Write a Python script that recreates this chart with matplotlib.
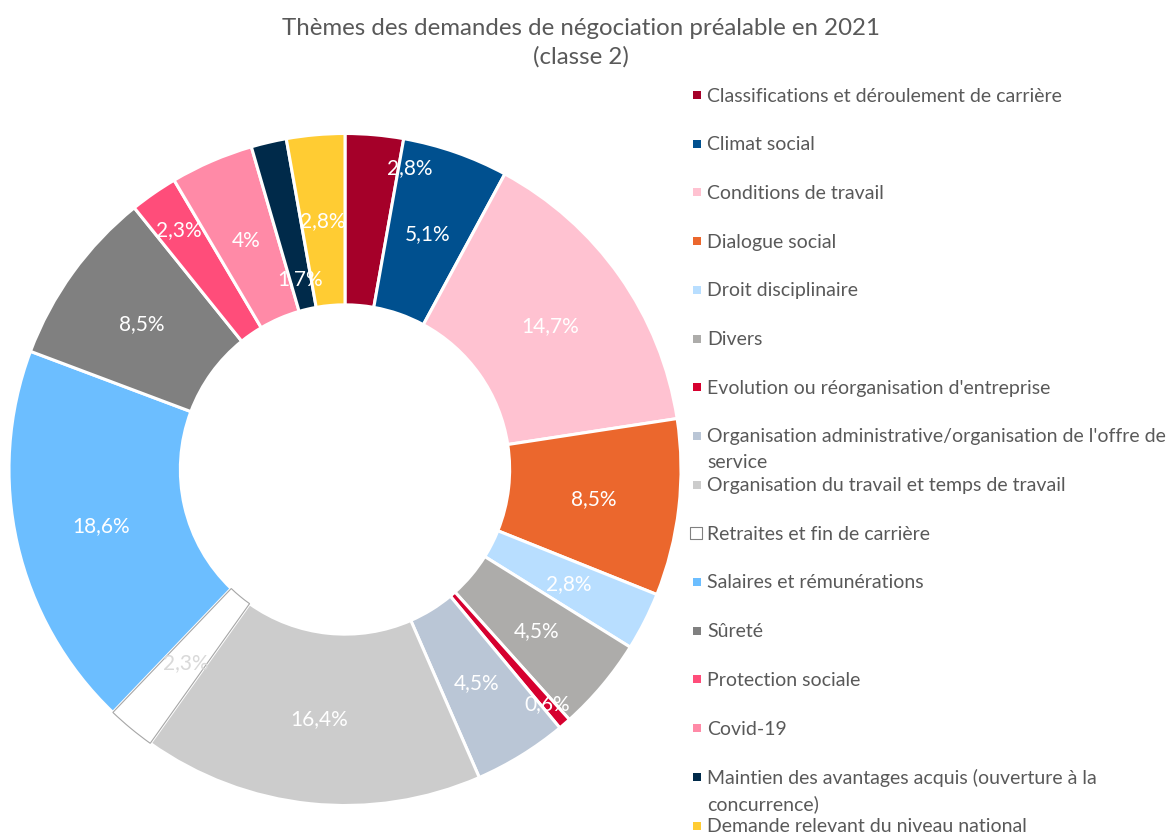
import matplotlib.pyplot as plt
import numpy as np

plt.rcParams['font.family'] = ['Lato', 'DejaVu Sans']

# themes (legend order = slice order, clockwise from the top)
themes = [
    "Classifications et déroulement de carrière",
    "Climat social",
    "Conditions de travail",
    "Dialogue social",
    "Droit disciplinaire",
    "Divers",
    "Evolution ou réorganisation d'entreprise",
    "Organisation administrative/organisation de l'offre de\nservice",
    "Organisation du travail et temps de travail",
    "Retraites et fin de carrière",
    "Salaires et rémunérations",
    "Sûreté",
    "Protection sociale",
    "Covid-19",
    "Maintien des avantages acquis (ouverture à la\nconcurrence)",
    "Demande relevant du niveau national",
]
shares = [2.8, 5.1, 14.7, 8.5, 2.8, 4.5, 0.6, 4.5, 16.4, 2.3, 18.6, 8.5, 2.3, 4.0, 1.7, 2.8]
share_labels = ["2,8%", "5,1%", "14,7%", "8,5%", "2,8%", "4,5%", "0,6%", "4,5%",
                "16,4%", "2,3%", "18,6%", "8,5%", "2,3%", "4%", "1,7%", "2,8%"]
colors = ["#A50029", "#00508F", "#FFC2D1", "#EB672D", "#B8DEFF", "#ADACAA",
          "#D6002F", "#BAC6D6", "#CCCCCC", "#FFFFFF", "#6CBEFF", "#808080",
          "#FF4D7A", "#FF8AA7", "#002A4A", "#FFCC33"]

W, H = 1170, 837
fig = plt.figure(figsize=(W / 100, H / 100), dpi=100)

# plot area (light background square)
ax = fig.add_axes([9 / W, (H - 807) / H, 672 / W, 673 / H])
ax.set_facecolor("#EEF2F6")
for s in ax.spines.values():
    s.set_visible(False)
ax.set_xticks([])
ax.set_yticks([])

inner = 0.49
wedges, _ = ax.pie(shares, colors=colors, startangle=90, counterclock=False,
                   radius=1.0, wedgeprops=dict(width=1 - inner, edgecolor="white", linewidth=2.2))
# the white slice gets a thin grey outline
wedges[9].set_edgecolor("#A6A6A6")
wedges[9].set_linewidth(0.8)
wedges[9].set_zorder(3)
ax.set_xlim(-1.0, 1.0)
ax.set_ylim(-1.0, 1.0)
ax.set_aspect("equal")

# labels sit mid-ring, a few small ones are pushed in/out like in the original
rmid = (1 + inner) / 2
label_r = {0: 0.92, 6: 0.92, 12: 0.87, 14: 0.585}
label_shift = {0: -7}  # degrees
for i, w in enumerate(wedges):
    ang = np.deg2rad((w.theta1 + w.theta2) / 2 + label_shift.get(i, 0))
    r = label_r.get(i, rmid)
    col = "#D9D9D9" if i == 9 else "white"
    ax.text(r * np.cos(ang), r * np.sin(ang), share_labels[i], color=col,
            fontsize=15, ha="center", va="center", zorder=5)

# title
fig.text(581 / W, 1 - 43 / H, "Thèmes des demandes de négociation préalable en 2021\n(classe 2)",
         ha="center", va="center", fontsize=17.3, color="#595959", linespacing=1.4)

# legend drawn by hand
lax = fig.add_axes([0, 0, 1, 1], facecolor="none")
lax.set_xlim(0, W)
lax.set_ylim(H, 0)
lax.axis("off")
y0, dy = 96, 48.7
for i, name in enumerate(themes):
    y = y0 + i * dy
    if i == 9:
        lax.scatter(696, y, marker="s", s=80, facecolor="white", edgecolor="#808080", linewidth=0.8)
    else:
        lax.scatter(697, y, marker="s", s=30, color=colors[i], linewidth=0)
    for k, line in enumerate(name.split("\n")):
        lax.text(707, y + k * 26, line, ha="left", va="center",
                 fontsize=14, color="#595959")

fig.savefig("out.png", dpi=100)
